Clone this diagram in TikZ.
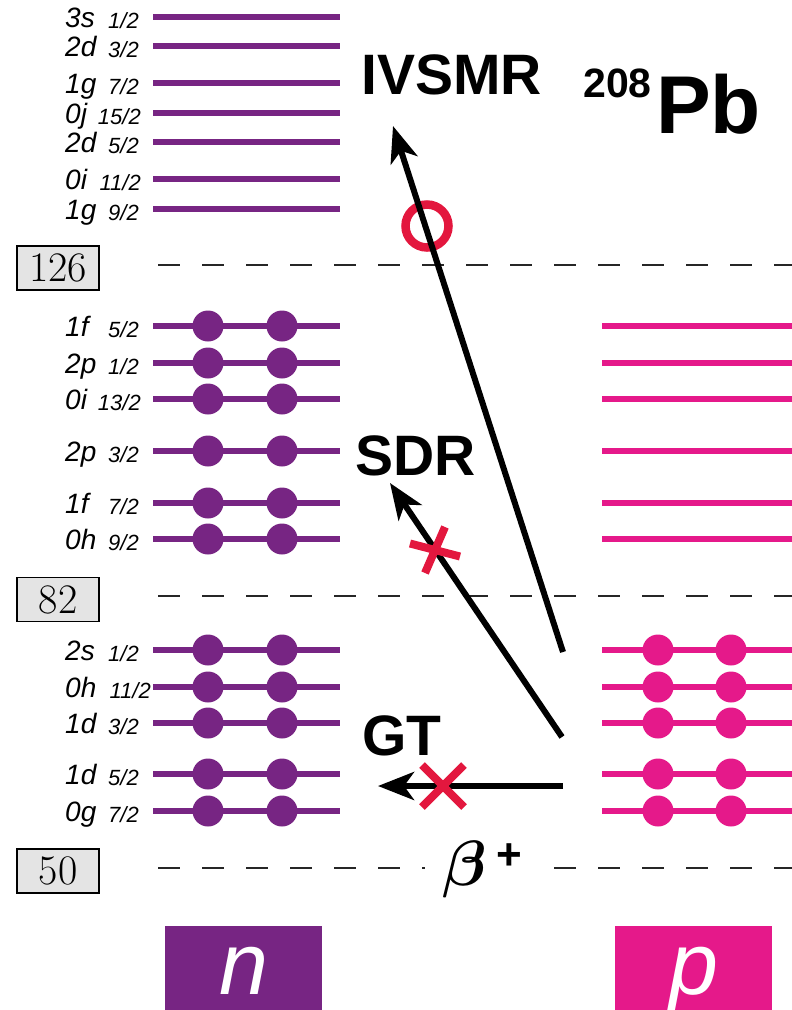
\documentclass[tikz,border=0pt]{standalone}
\usepackage{fix-cm}
\usepackage{bm}
\usepackage{fontspec}
\newfontfamily\sansf{Liberation Sans}
\usetikzlibrary{arrows.meta}
\definecolor{npurple}{RGB}{119,37,131}
\definecolor{ppink}{RGB}{229,25,138}
\definecolor{mred}{RGB}{227,23,62}
\definecolor{boxgray}{RGB}{228,228,228}
\begin{document}
\begin{tikzpicture}[x=1pt,y=-1pt,
  nline/.style={draw=npurple, line width=5.5pt},
  pline/.style={draw=ppink, line width=5.5pt},
  shell/.style={draw=black!85, line width=1.8pt, dash pattern=on 22pt off 22pt},
  magic/.style={draw=black, line width=1.3pt, fill=boxgray, minimum width=82pt, minimum height=44pt, inner sep=0pt, font=\fontsize{42}{44}\selectfont},
  orb/.style={inner sep=0pt, font=\sansf\itshape\fontsize{28}{30}\selectfont},
  fracl/.style={inner sep=0pt, font=\sansf\itshape\fontsize{22}{22}\selectfont},
  arr/.style={line width=6pt, -{Stealth[length=36pt,width=28pt,inset=10pt]}},
  redmark/.style={draw=mred, line width=8pt},
  big/.style={inner sep=0pt, font=\sansf\bfseries\fontsize{57}{60}\selectfont},
  species/.style={inner sep=0pt, minimum width=157pt, minimum height=84pt},
  specieslbl/.style={inner sep=0pt, text=white, font=\sansf\itshape\fontsize{88}{88}\selectfont}
]
\useasboundingbox (0,0) rectangle (792,1010);

% shell closures
\node[magic] (m126) at (58,268) {126};
\node[magic] (m82) at (58,599.5) {82};
\node[magic] (m50) at (58,871) {50};
\draw[shell] (158,265) -- (792,265);
\draw[shell] (158,596) -- (792,596);
\draw[shell] (158,868) -- (792,868);

% neutron levels
\foreach \y/\o/\f/\r [count=\k] in {17/3s/{1/2}/139, 46/2d/{3/2}/139, 83/1g/{7/2}/139, 113/0j/{15/2}/141, 142/2d/{5/2}/139, 179/0i/{11/2}/141, 209/1g/{9/2}/139,
  326/1f/{5/2}/139, 363/2p/{1/2}/139, 399/0i/{13/2}/141, 451/2p/{3/2}/139, 503/1f/{7/2}/139, 539/0h/{9/2}/139,
  650/2s/{1/2}/139, 687/0h/{11/2}/151, 723/1d/{3/2}/139, 774/1d/{5/2}/139, 811/0g/{7/2}/139}{
  \draw[nline] (153,\y) -- (340,\y);
  \node[orb, anchor=base west] (no\k) at (65,\y+10.5) {\o};
  \node[fracl, anchor=base east] (nf\k) at (\r,\y+11) {\f};
}
\foreach \y in {326,363,399,451,503,539,650,687,723,774,811}{
  \fill[npurple] (208,\y) circle (15.5);
  \fill[npurple] (282,\y) circle (15.5);
}

% proton levels
\foreach \y in {326,363,399,451,503,539,650,687,723,774,811}{
  \draw[pline] (602,\y) -- (792,\y);
}
\foreach \y in {650,687,723,774,811}{
  \fill[ppink] (658,\y) circle (15.5);
  \fill[ppink] (731,\y) circle (15.5);
}

% beta+ label (covers dashed line)
\fill[white] (425,850) rectangle (548,888);
\node[inner sep=0pt, anchor=base west, font=\fontsize{64}{64}\selectfont] (beta) at (442,885) {$\bm{\beta}$};
\node[inner sep=0pt, font=\sansf\bfseries\fontsize{44}{44}\selectfont] (plus) at (509,857) {+};

% transition endpoints
\coordinate (ivS) at (563,652);
\coordinate (ivE) at (393,126);
\coordinate (sdS) at (562,737);
\coordinate (sdE) at (390,483);
\coordinate (gtS) at (563,786);
\coordinate (gtE) at (378,786);
\coordinate (ivM) at (427,226);
\coordinate (sdM) at (435,550);
\coordinate (gtM) at (443,786);

\draw[draw=mred, line width=8.5pt] (ivM) circle (21.5);
\draw[arr] (ivS) -- (ivE);
\draw[arr] (sdS) -- (sdE);
\draw[arr] (gtS) -- (gtE);
\draw[redmark] (sdM) ++(-25,-6.5) -- ++(50,13);
\draw[redmark] (sdM) ++(-10,23) -- ++(20,-46);
\draw[redmark] (gtM) ++(-21,-21) -- ++(42,42);
\draw[redmark] (gtM) ++(-21,21) -- ++(42,-42);

% labels
\node[big, anchor=base west] (ivsmr) at (361,94) {IVSMR};
\node[big, anchor=base west] (sdr) at (355,475) {SDR};
\node[big, anchor=base west] (gt) at (362,755) {GT};
\node[inner sep=0pt, anchor=base west, font=\sansf\bfseries\fontsize{41}{41}\selectfont] (mass) at (583,97) {208};
\node[inner sep=0pt, anchor=base west, font=\sansf\bfseries\fontsize{82}{82}\selectfont] (pb) at (656,133) {Pb};

% species boxes
\node[species, fill=npurple] (nbox) at (243.5,968) {};
\node[species, fill=ppink] (pbox) at (693.5,968) {};
\node[specieslbl, anchor=base] (nlbl) at (nbox.center |- 0,994) {n};
\node[specieslbl, anchor=base] (plbl) at (pbox.center |- 0,994) {p};
\end{tikzpicture}
\end{document}
